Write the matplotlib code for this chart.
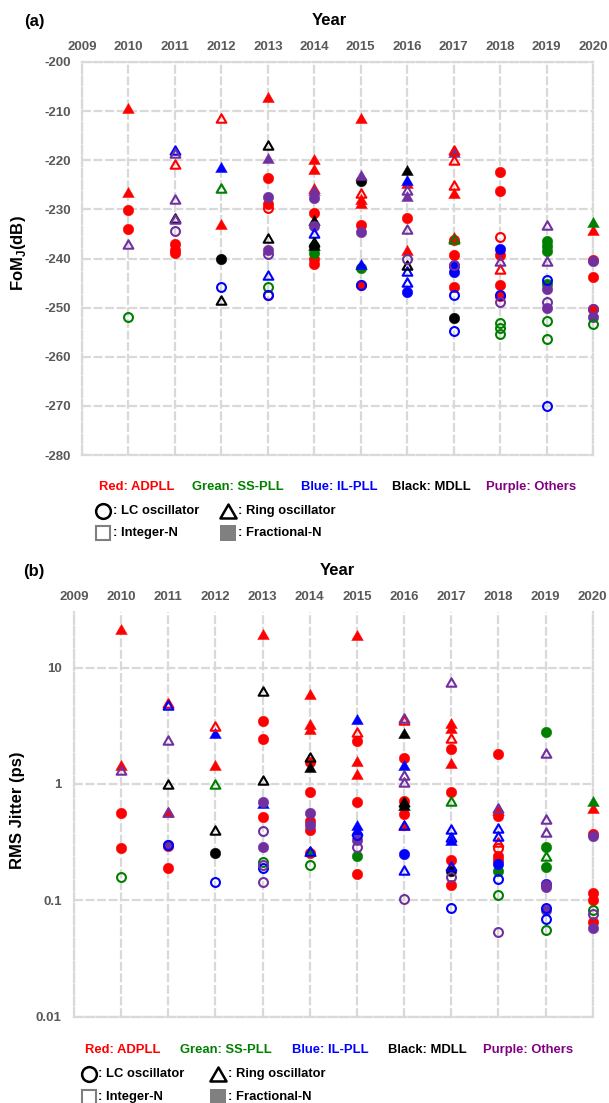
import matplotlib
matplotlib.use("Agg")
import matplotlib.pyplot as plt
from matplotlib.lines import Line2D
from matplotlib.path import Path
from matplotlib.ticker import NullLocator, FixedLocator, FixedFormatter

plt.rcParams['font.family'] = ['Liberation Sans', 'DejaVu Sans']
plt.rcParams['mathtext.fontset'] = 'custom'
plt.rcParams['mathtext.rm'] = 'Liberation Sans:bold'
plt.rcParams['mathtext.bf'] = 'Liberation Sans:bold'

# ---------------------------------------------------------------- data
years = list(range(2009, 2021))
year_labels = [str(y) for y in years]

fom_ticks = [-280, -270, -260, -250, -240, -230, -220, -210, -200]
jit_ticks = [0.01, 0.1, 1, 10]
jit_tick_labels = ['0.01', '0.1', '1', '10']

# FoM_J (dB): (year, value)
fom_adpll_ro_frac = [(2010, -209.3), (2010, -226.5), (2012, -233.0), (2013, -207.2), (2014, -219.8),
                     (2014, -221.8), (2014, -225.7), (2015, -211.3), (2015, -227.9), (2015, -228.7),
                     (2016, -224.7), (2016, -238.2), (2017, -226.6), (2017, -235.6), (2020, -234.1)]
fom_adpll_ro_int = [(2011, -220.7), (2012, -211.5), (2015, -226.6), (2017, -218.0), (2017, -220.0),
                    (2017, -225.0), (2018, -242.2)]
fom_adpll_lc_frac = [(2010, -230.2), (2010, -233.9), (2011, -237.0), (2011, -238.3), (2011, -238.9),
                     (2013, -223.7), (2013, -228.9), (2014, -230.8), (2014, -240.2), (2014, -241.2),
                     (2015, -233.1), (2015, -245.3), (2016, -231.7), (2017, -236.2), (2017, -239.2),
                     (2017, -245.8), (2018, -222.4), (2018, -226.3), (2018, -239.2), (2018, -245.4),
                     (2018, -247.6), (2020, -240.3), (2020, -243.8), (2020, -250.2)]
fom_adpll_lc_int = [(2013, -229.8), (2013, -247.4), (2018, -235.6)]
fom_sspll_lc_int = [(2010, -251.9), (2013, -245.7), (2018, -253.2), (2018, -254.1), (2018, -255.4),
                    (2019, -252.8), (2019, -256.3), (2020, -253.4)]
fom_sspll_ro_int = [(2012, -225.7), (2017, -236.1)]
fom_sspll_lc_frac = [(2014, -237.5), (2014, -238.8), (2015, -241.9), (2019, -236.4), (2019, -237.5),
                     (2019, -238.5), (2019, -245.2)]
fom_sspll_ro_frac = [(2020, -232.6)]
fom_ilpll_ro_frac = [(2012, -221.3), (2015, -241.2), (2016, -224.0)]
fom_ilpll_ro_int = [(2011, -217.9), (2013, -243.3), (2014, -234.8), (2016, -242.5), (2016, -244.7)]
fom_ilpll_lc_frac = [(2016, -246.9), (2017, -241.5), (2017, -242.8), (2018, -238.0)]
fom_ilpll_lc_int = [(2012, -245.7), (2013, -247.4), (2015, -245.3), (2017, -247.4), (2017, -254.8),
                    (2018, -247.4), (2019, -244.3), (2019, -270.0)]
fom_mdll_lc_frac = [(2012, -240.2), (2015, -224.3), (2017, -252.2)]
fom_mdll_ro_int = [(2011, -231.7), (2012, -248.4), (2013, -216.8), (2013, -235.8), (2014, -236.6),
                   (2016, -241.3)]
fom_mdll_ro_frac = [(2014, -232.2), (2014, -237.2), (2016, -222.0)]
fom_other_ro_int = [(2010, -237.1), (2011, -218.6), (2011, -227.8), (2011, -232.0), (2016, -226.0),
                    (2016, -233.9), (2018, -240.5), (2019, -233.1), (2019, -240.5)]
fom_other_ro_frac = [(2013, -219.5), (2014, -226.0), (2015, -223.0), (2016, -227.3), (2017, -218.3)]
fom_other_lc_int = [(2011, -234.5), (2013, -239.0), (2016, -240.2), (2017, -241.4), (2018, -248.8),
                    (2019, -248.8), (2020, -250.2)]
fom_other_lc_frac = [(2013, -227.5), (2013, -238.3), (2014, -227.6), (2014, -233.4), (2015, -234.6),
                     (2019, -246.3), (2019, -250.0), (2020, -240.5), (2020, -252.0)]

# RMS jitter (ps): (year, value)
jit_adpll_ro_frac = [(2010, 21.6), (2010, 1.45), (2011, 0.57), (2012, 1.46), (2013, 19.3), (2014, 5.9),
                     (2014, 3.26), (2014, 2.96), (2015, 18.9), (2015, 1.58), (2015, 1.21), (2016, 0.44),
                     (2017, 3.31), (2017, 3.05), (2017, 1.5), (2018, 0.60), (2020, 0.62)]
jit_adpll_ro_int = [(2011, 5.0), (2012, 3.16), (2015, 2.8), (2016, 3.55), (2017, 2.47), (2018, 0.32)]
jit_adpll_lc_frac = [(2010, 0.563), (2010, 0.282), (2011, 0.295), (2011, 0.19), (2013, 3.44), (2013, 2.43),
                     (2013, 0.52), (2014, 1.53), (2014, 0.85), (2014, 0.48), (2014, 0.40), (2014, 0.255),
                     (2015, 2.35), (2015, 0.70), (2015, 0.168), (2016, 1.68), (2016, 0.72), (2016, 0.556),
                     (2017, 1.99), (2017, 0.85), (2017, 0.22), (2017, 0.135), (2018, 1.8), (2018, 0.535),
                     (2018, 0.242), (2018, 0.224), (2020, 0.37), (2020, 0.116), (2020, 0.101), (2020, 0.065)]
jit_adpll_lc_int = [(2018, 0.28)]
jit_sspll_lc_int = [(2010, 0.159), (2013, 0.212), (2014, 0.203), (2018, 0.11), (2019, 0.056), (2020, 0.082)]
jit_sspll_ro_int = [(2012, 1.0), (2017, 0.71), (2019, 0.239)]
jit_sspll_lc_frac = [(2015, 0.239), (2018, 0.178), (2019, 2.82), (2019, 0.287), (2019, 0.194)]
jit_sspll_ro_frac = [(2014, 0.267), (2020, 0.72)]
jit_ilpll_ro_int = [(2011, 4.78), (2014, 0.267), (2016, 0.44), (2016, 0.181), (2017, 0.41), (2017, 0.35),
                    (2017, 0.196), (2018, 0.42), (2018, 0.36)]
jit_ilpll_ro_frac = [(2012, 2.73), (2013, 0.68), (2015, 3.6), (2015, 0.447), (2015, 0.405), (2016, 1.44),
                     (2017, 0.33)]
jit_ilpll_lc_int = [(2011, 0.30), (2012, 0.144), (2013, 0.19), (2015, 0.367), (2017, 0.0853), (2018, 0.152),
                    (2019, 0.086), (2019, 0.069)]
jit_ilpll_lc_frac = [(2016, 0.248), (2018, 0.205), (2019, 0.138)]
jit_mdll_ro_int = [(2011, 0.99), (2012, 0.40), (2013, 6.3), (2013, 1.09), (2014, 1.72), (2016, 0.70)]
jit_mdll_ro_frac = [(2014, 1.39), (2016, 2.74), (2016, 0.66)]
jit_mdll_lc_frac = [(2012, 0.255), (2017, 0.178)]
jit_other_ro_int = [(2010, 1.32), (2011, 2.38), (2011, 0.57), (2016, 3.72), (2016, 1.2), (2016, 1.03),
                    (2017, 7.53), (2018, 0.62), (2019, 1.86), (2019, 0.5), (2019, 0.385)]
jit_other_lc_frac = [(2011, 0.30), (2013, 0.70), (2013, 0.286), (2014, 0.56), (2014, 0.447), (2015, 0.33),
                     (2019, 0.136), (2019, 0.129), (2019, 0.082), (2020, 0.355), (2020, 0.058)]
jit_other_lc_int = [(2013, 0.394), (2013, 0.2), (2013, 0.144), (2015, 0.288), (2016, 0.103), (2017, 0.16),
                    (2018, 0.053), (2020, 0.076)]

# ---------------------------------------------------------------- styles
arch_colors = {'adpll': '#FF0000', 'sspll': '#008000', 'ilpll': '#0000FF',
               'mdll': '#000000', 'other': '#7030A0'}
legend_labels = ['Red: ADPLL', 'Grean: SS-PLL', 'Blue: IL-PLL', 'Black: MDLL', 'Purple: Others']
legend_colors = ['#FF0000', '#008000', '#0000FF', '#000000', '#800080']

TRI = Path([(0, 0.433), (-0.5, -0.433), (0.5, -0.433), (0, 0.433)],
           [Path.MOVETO, Path.LINETO, Path.LINETO, Path.CLOSEPOLY])

GRID = '#D9D9D9'
TICK = '#595959'
W, H = 609, 1103


def fx(x):
    return x / W


def fy(y):
    return 1 - y / H


def series_for(prefix):
    g = globals()
    out = []
    for fill in ('frac', 'int'):
        for arch in ('adpll', 'sspll', 'ilpll', 'mdll', 'other'):
            for osc in ('ro', 'lc'):
                name = f'{prefix}_{arch}_{osc}_{fill}'
                if name in g:
                    out.append((g[name], arch, osc, fill))
    return out


def draw_points(ax, prefix):
    for pts, arch, osc, fill in series_for(prefix):
        xs = [p[0] for p in pts]
        ys = [p[1] for p in pts]
        c = arch_colors[arch]
        marker = 'o' if osc == 'lc' else TRI
        if fill == 'frac':
            ms = 7.6 if osc == 'lc' else 8.4
            ax.plot(xs, ys, ls='none', marker=marker, ms=ms, mfc=c, mec=c, mew=0.3,
                    clip_on=False, zorder=3)
        else:
            ms = 6.4 if osc == 'lc' else 7.0
            ax.plot(xs, ys, ls='none', marker=marker, ms=ms, mfc='none', mec=c, mew=1.5,
                    clip_on=False, zorder=4)


def style_axes(ax, top_spine=True):
    ax.set_xlim(2009, 2020)
    ax.xaxis.set_major_locator(FixedLocator(years))
    ax.xaxis.set_major_formatter(FixedFormatter(year_labels))
    ax.xaxis.tick_top()
    ax.tick_params(axis='both', length=0, labelsize=9.5, labelcolor=TICK)
    ax.tick_params(axis='x', pad=6.3)
    for lab in ax.get_xticklabels() + ax.get_yticklabels():
        lab.set_fontweight('bold')
    ax.grid(True, color=GRID, linestyle=(0, (4, 1.2)), linewidth=1.6, zorder=0)
    ax.set_axisbelow(True)
    for side, sp in ax.spines.items():
        sp.set_color(GRID)
        sp.set_linewidth(1.6)
        sp.set_linestyle((0, (4, 1.2)))
    if not top_spine:
        ax.spines['top'].set_visible(False)


def draw_legend(fig, row_y, text_x, circ_x, tri_x):
    for x, lab, c in zip(text_x, legend_labels, legend_colors):
        fig.text(fx(x), fy(row_y[0]), lab, color=c, fontsize=9.4, fontweight='bold',
                 ha='left', va='center')
    fig.add_artist(Line2D([fx(circ_x)], [fy(row_y[1])], marker='o', ms=10.6, mfc='none',
                          mec='black', mew=1.8, ls='none', transform=fig.transFigure))
    fig.add_artist(Line2D([fx(tri_x)], [fy(row_y[1])], marker=TRI, ms=11.6, mfc='none',
                          mec='black', mew=1.8, ls='none', transform=fig.transFigure))
    fig.add_artist(Line2D([fx(circ_x)], [fy(row_y[2])], marker='s', ms=10.4, mfc='white',
                          mec='#7F7F7F', mew=1.5, ls='none', transform=fig.transFigure))
    fig.add_artist(Line2D([fx(tri_x)], [fy(row_y[2])], marker='s', ms=11.6, mfc='#808080',
                          mec='#808080', mew=0, ls='none', transform=fig.transFigure))
    tx1 = circ_x + 9.5
    tx2 = tri_x + 10.5
    fig.text(fx(tx1), fy(row_y[1]), ': LC oscillator', fontsize=9.4, fontweight='bold', va='center')
    fig.text(fx(tx2), fy(row_y[1]), ': Ring oscillator', fontsize=9.4, fontweight='bold', va='center')
    fig.text(fx(tx1), fy(row_y[2]), ': Integer-N', fontsize=9.4, fontweight='bold', va='center')
    fig.text(fx(tx2), fy(row_y[2]), ': Fractional-N', fontsize=9.4, fontweight='bold', va='center')


fig = plt.figure(figsize=(W / 100, H / 100), dpi=100)
fig.patch.set_facecolor('white')

# ---------------------------------------------------------------- (a) FoM_J
a_l, a_r, a_t, a_b = 82, 593, 62, 455
ax1 = fig.add_axes([fx(a_l), fy(a_b), (a_r - a_l) / W, (a_b - a_t) / H])
ax1.set_ylim(-280, -200)
ax1.yaxis.set_major_locator(FixedLocator(fom_ticks))
ax1.yaxis.set_major_formatter(FixedFormatter([str(t) for t in fom_ticks]))
style_axes(ax1)
ax1.tick_params(axis='y', pad=8)
draw_points(ax1, 'fom')

fig.text(fx(24), fy(21.7), '(a)', fontsize=12, fontweight='bold', ha='left', va='center')
fig.text(fx(329.5), fy(20.7), 'Year', fontsize=12, fontweight='bold', ha='center', va='center')
fig.text(fx(18.5), fy(253.5), r'FoM$_\mathbf{J}$(dB)', fontsize=12, fontweight='bold',
         rotation=90, ha='center', va='center')
draw_legend(fig, (486.7, 510.7, 533.3), [99.3, 191.7, 300.7, 392.5, 485.9], 103.5, 228)

# ---------------------------------------------------------------- (b) RMS jitter
b_l, b_r, b_t, b_b = 74, 592.7, 612, 1016.7
ax2 = fig.add_axes([fx(b_l), fy(b_b), (b_r - b_l) / W, (b_b - b_t) / H])
ax2.set_yscale('log')
ax2.set_ylim(0.01, 30)
ax2.yaxis.set_major_locator(FixedLocator(jit_ticks))
ax2.yaxis.set_major_formatter(FixedFormatter(jit_tick_labels))
ax2.yaxis.set_minor_locator(NullLocator())
style_axes(ax2, top_spine=False)
ax2.tick_params(axis='y', pad=9)
draw_points(ax2, 'jit')

fig.text(fx(23), fy(571.7), '(b)', fontsize=12, fontweight='bold', ha='left', va='center')
fig.text(fx(337.5), fy(570.7), 'Year', fontsize=12, fontweight='bold', ha='center', va='center')
fig.text(fx(18), fy(810), 'RMS Jitter (ps)', fontsize=12, fontweight='bold',
         rotation=90, ha='center', va='center')
draw_legend(fig, (1050, 1074, 1096.7), [85, 180, 291.7, 387.7, 482.6], 89, 217.5)

fig.savefig('out.png', dpi=100, facecolor='white')
